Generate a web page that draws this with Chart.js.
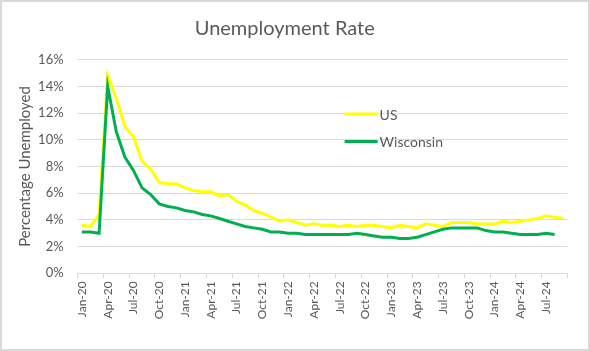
<!DOCTYPE html>
<html>
<head>
<meta charset="utf-8">
<script src="https://cdn.jsdelivr.net/npm/chart.js@4"></script>
<style>
  html, body { margin: 0; padding: 0; background: #fff; }
  #wrap {
    position: absolute; left: 0; top: 0;
    width: 590px; height: 351px;
    box-sizing: border-box;
    border: 2px solid #d9d9d9;
    background: #fff;
  }
  #unempChart { display: block; }
</style>
</head>
<body>
<div id="wrap"><canvas id="unempChart" width="586" height="347"></canvas></div>
<script>
const months = [
  'Jan-20', 'Feb-20', 'Mar-20', 'Apr-20', 'May-20', 'Jun-20', 'Jul-20', 'Aug-20', 'Sep-20', 'Oct-20', 'Nov-20', 'Dec-20',
  'Jan-21', 'Feb-21', 'Mar-21', 'Apr-21', 'May-21', 'Jun-21', 'Jul-21', 'Aug-21', 'Sep-21', 'Oct-21', 'Nov-21', 'Dec-21',
  'Jan-22', 'Feb-22', 'Mar-22', 'Apr-22', 'May-22', 'Jun-22', 'Jul-22', 'Aug-22', 'Sep-22', 'Oct-22', 'Nov-22', 'Dec-22',
  'Jan-23', 'Feb-23', 'Mar-23', 'Apr-23', 'May-23', 'Jun-23', 'Jul-23', 'Aug-23', 'Sep-23', 'Oct-23', 'Nov-23', 'Dec-23',
  'Jan-24', 'Feb-24', 'Mar-24', 'Apr-24', 'May-24', 'Jun-24', 'Jul-24', 'Aug-24', 'Sep-24'
];

// percent unemployed
const usRate = [
  3.6, 3.5, 4.4, 14.8, 13.1, 11.0, 10.2, 8.4, 7.8, 6.8, 6.7, 6.7,
  6.4, 6.2, 6.1, 6.1, 5.8, 5.9, 5.4, 5.1, 4.7, 4.5, 4.2, 3.9,
  4.0, 3.8, 3.6, 3.7, 3.6, 3.6, 3.5, 3.6, 3.5, 3.6, 3.6, 3.5,
  3.4, 3.6, 3.5, 3.4, 3.7, 3.6, 3.5, 3.8, 3.8, 3.8, 3.7, 3.7,
  3.7, 3.9, 3.8, 3.9, 4.0, 4.1, 4.3, 4.2, 4.1
];

const wiRate = [
  3.1, 3.1, 3.0, 14.0, 10.6, 8.7, 7.7, 6.4, 5.9, 5.2, 5.0, 4.9,
  4.7, 4.6, 4.4, 4.3, 4.1, 3.9, 3.7, 3.5, 3.4, 3.3, 3.1, 3.1,
  3.0, 3.0, 2.9, 2.9, 2.9, 2.9, 2.9, 2.9, 3.0, 2.9, 2.8, 2.7,
  2.7, 2.6, 2.6, 2.7, 2.9, 3.1, 3.3, 3.4, 3.4, 3.4, 3.4, 3.2,
  3.1, 3.1, 3.0, 2.9, 2.9, 2.9, 3.0, 2.9
];

const yTicks = [0, 2, 4, 6, 8, 10, 12, 14, 16];

const textColor = '#595959';
const gridColor = '#d9d9d9';
const fontFamily = 'Lato, "Open Sans", sans-serif';

// legend sits inside the plot, like the Excel one
const insideLegend = {
  id: 'insideLegend',
  afterDraw(chart) {
    const { ctx, chartArea } = chart;
    const x = chartArea.left + 267;
    const rows = [chartArea.top + 54.5, chartArea.top + 82];
    ctx.save();
    ctx.font = '14px ' + fontFamily;
    ctx.textBaseline = 'middle';
    chart.data.datasets.forEach((ds, i) => {
      const y = rows[i];
      ctx.strokeStyle = ds.borderColor;
      ctx.lineWidth = 3;
      ctx.beginPath();
      ctx.moveTo(x, y);
      ctx.lineTo(x + 33, y);
      ctx.stroke();
      ctx.fillStyle = textColor;
      ctx.fillText(ds.label, x + 35, y + 1);
    });
    ctx.restore();
  }
};

const ctx = document.getElementById('unempChart').getContext('2d');

new Chart(ctx, {
  type: 'line',
  data: {
    labels: months,
    datasets: [{
      label: 'US',
      data: usRate,
      borderColor: '#ffff00',
      borderWidth: 3,
      pointRadius: 0,
      tension: 0,
      order: 2
    },
    {
      label: 'Wisconsin',
      data: wiRate,
      borderColor: '#00b050',
      borderWidth: 3,
      pointRadius: 0,
      tension: 0,
      order: 1
    }]
  },
  options: {
    responsive: false,
    animation: false,
    layout: { padding: { left: 0, right: 20.5, top: 0, bottom: 0 } },
    scales: {
      x: {
        type: 'category',
        offset: true,
        afterFit: (scale) => { scale.height = 75.7; },
        border: { display: true, color: gridColor, width: 1 },
        grid: {
          offset: true,
          drawOnChartArea: false,
          drawTicks: true,
          tickLength: 5,
          color: (c) => (c.index === undefined || c.index % 3 === 0) ? gridColor : 'rgba(0,0,0,0)'
        },
        ticks: {
          autoSkip: false,
          minRotation: 90,
          maxRotation: 90,
          padding: 3,
          color: textColor,
          font: { family: fontFamily, size: 12 },
          callback: function (val, index) {
            return index % 3 === 0 ? this.getLabelForValue(val) : '';
          }
        }
      },
      y: {
        min: yTicks[0],
        max: yTicks[yTicks.length - 1],
        afterFit: (scale) => { scale.width = 75.6; },
        afterBuildTicks: (scale) => { scale.ticks = yTicks.map(v => ({ value: v })); },
        border: { display: false },
        grid: { color: gridColor, lineWidth: 1, drawTicks: false },
        ticks: {
          padding: 14,
          color: textColor,
          font: { family: fontFamily, size: 13 },
          callback: (v) => v + '%'
        },
        title: {
          display: true,
          text: 'Percentage Unemployed',
          color: textColor,
          font: { family: fontFamily, size: 15 },
          padding: { top: 14, bottom: 0 }
        }
      }
    },
    plugins: {
      legend: { display: false },
      tooltip: { enabled: false },
      title: {
        display: true,
        text: 'Unemployment Rate',
        color: textColor,
        font: { family: fontFamily, size: 20, weight: 'normal' },
        padding: { top: 15, bottom: 18.6 }
      }
    }
  },
  plugins: [insideLegend]
});
</script>
</body>
</html>
